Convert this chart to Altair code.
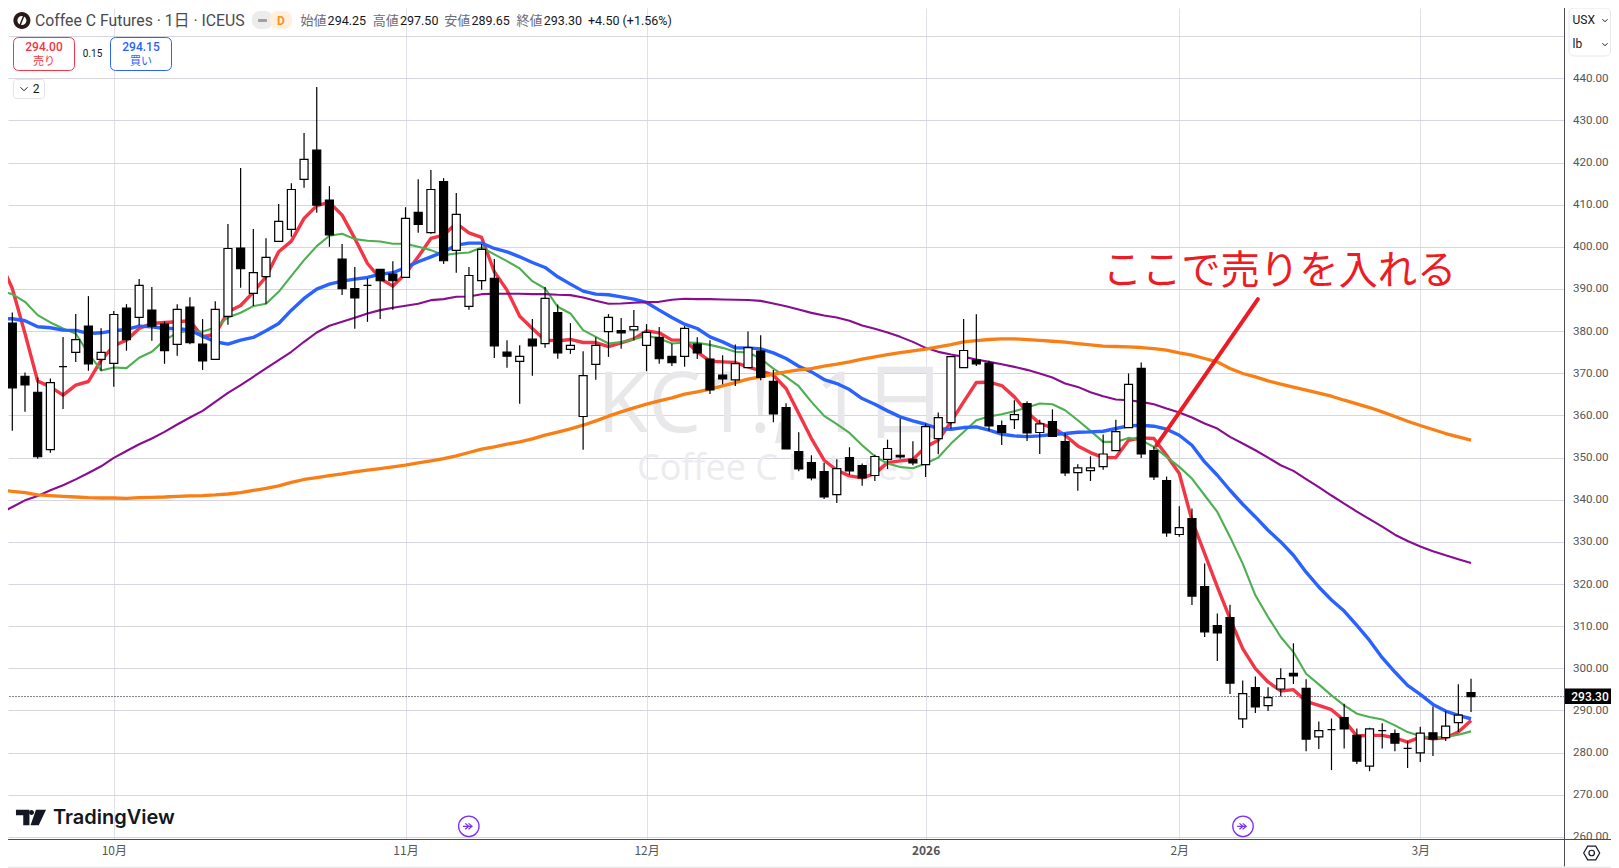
import altair as alt
import pandas as pd

opens = [381.9,369.3,365.5,351.9,371.6,374.95,381.2,373.3,372.35,385.45,383.25,385.0,381.65,376.85,385.7,376.9,373.3,383.5,399.7,388.95,
392.95,401.3,404.15,416.0,422.95,411.1,397.1,390.1,390.85,394.65,393.5,392.75,408.15,403.35,415.5,399.15,385.85,392.0,392.55,375.0,
372.8,378.1,377.05,384.4,375.65,359.75,372.1,379.9,380.15,380.3,376.6,378.5,374.0,374.0,376.9,373.35,369.55,368.45,371.35,375.25,
368.1,361.85,351.4,348.8,346.7,341.2,350.0,348.1,345.75,349.55,350.55,349.6,348.35,354.5,358.3,371.35,373.1,372.4,357.6,359.0,
362.8,355.95,358.55,353.8,346.45,346.9,347.85,351.65,357.1,371.15,351.65,344.55,331.75,335.55,319.4,310.15,312.05,288.0,295.4,291.15,
295.1,298.8,295.25,283.75,285.45,288.3,284.1,276.8,285.2,284.5,281.0,279.95,284.7,283.55,287.1,294.25]
highs = [384.4,370.2,369.0,368.75,378.6,384.05,388.3,380.7,384.75,386.4,392.35,390.45,382.3,386.4,388.05,382.85,387.1,405.4,418.7,404.2,
402.05,410.15,415.1,427.0,437.9,414.4,400.65,395.2,392.5,394.65,396.55,409.4,416.05,418.2,416.3,412.75,395.2,400.65,397.1,377.85,
376.65,382.85,390.45,386.3,381.9,375.25,378.55,384.05,383.1,385.0,381.65,380.95,377.05,381.2,378.55,377.85,374.3,376.8,379.9,379.05,
370.75,362.9,356.0,350.55,348.75,349.6,352.45,348.6,350.7,354.25,359.25,353.9,358.05,360.7,373.95,382.85,384.0,372.95,358.8,363.6,
363.35,359.0,361.45,355.8,348.4,350.3,355.45,359.0,369.95,372.55,352.6,345.5,338.45,337.9,324.85,313.0,315.1,297.1,298.05,295.5,
300.0,305.95,297.4,287.4,288.1,291.6,285.75,285.9,286.95,285.5,282.75,286.15,290.95,289.8,296.2,297.5]
lows = [356.35,360.85,349.7,351.15,361.55,372.7,370.6,370.6,366.8,375.35,381.4,377.7,372.25,374.15,376.9,370.8,373.3,381.5,390.3,385.95,
386.5,401.3,402.4,414.0,408.1,400.0,388.6,380.55,382.2,382.9,385.05,392.75,403.35,403.1,395.95,393.85,385.05,389.8,373.65,371.3,
362.75,369.4,376.05,373.45,374.6,351.85,368.45,373.9,375.8,377.85,370.5,372.25,371.75,371.55,373.4,365.1,367.4,367.0,371.35,368.35,
358.4,352.05,346.75,344.6,340.2,339.25,345.9,343.3,344.45,347.3,349.75,348.2,345.4,350.8,356.9,371.35,371.75,356.35,353.0,356.8,
353.95,350.85,354.9,345.65,342.1,344.45,347.1,351.65,357.1,349.9,344.7,331.2,331.2,315.05,307.45,301.75,293.9,285.85,289.4,289.9,
293.3,296.3,280.35,280.85,275.85,281.0,277.3,275.6,281.0,280.35,276.35,277.75,279.2,282.75,284.9,289.65]
closes = [366.55,367.25,350.2,367.8,371.6,378.0,372.25,374.95,383.95,377.95,390.85,381.2,375.35,385.15,377.25,372.95,385.15,399.6,394.8,393.9,
397.5,406.05,413.6,420.75,409.9,402.85,390.05,387.9,390.85,391.95,391.95,406.75,405.3,413.6,396.7,407.7,393.2,399.4,376.5,374.05,
374.0,376.5,387.75,374.85,376.6,369.45,376.6,383.25,379.6,381.1,379.7,373.45,372.5,380.65,374.85,366.05,368.65,372.3,376.1,369.05,
360.35,352.05,347.3,345.15,340.65,347.4,346.85,345.15,350.25,352.15,350.15,348.75,357.35,359.5,373.95,375.4,372.25,357.5,356.0,360.2,
355.85,358.0,355.05,346.35,347.55,347.55,350.85,356.15,367.35,350.85,345.4,332.1,333.4,317.15,308.65,308.4,296.5,294.0,290.85,293.05,
297.55,298.2,283.2,285.2,285.45,285.6,278.0,285.65,285.2,282.25,281.0,284.65,283.2,286.3,288.9,293.3]

ma_red = [396.85,390.12,379.45,368.13,366.79,364.81,367.18,368.05,373.12,376.52,377.86,380.63,381.82,382.06,382.22,382.45,378.66,379.29,384.59,386.09,389.26,
392.9,398.83,401.36,406.74,409.75,410.54,407.53,401.99,396.05,392.49,390.67,393.68,397.63,401.99,402.78,405.55,403.33,402.22,394.07,389.72,
383.55,380.63,377.86,377.7,378.02,377.3,377.3,376.35,377.22,378.17,380.07,379.6,377.86,377.86,375.08,372.86,372.7,372.55,371.52,370.57,
369.54,366.38,360.44,354.51,349.37,346.99,345.65,345.17,346.2,348.81,349.21,349.53,352.53,354.11,358.46,363.21,367.8,367.88,367.09,364.4,
360.84,358.07,357.12,355.3,352.77,351.19,350.0,350.0,354.12,354.67,354.51,350.56,346.21,335.13,327.22,319.31,311.79,304.67,299.93,296.76,
294.63,294.94,292.16,291.21,290.18,287.65,283.93,284.09,284.09,283.53,282.5,283.69,283.3,283.53,284.88,287.65]
ma_green = [389.57,388.78,386.96,383.8,382.06,380.63,379.45,374.7,370.67,371.38,371.22,373.67,375.09,377.86,379.6,380.08,379.84,380.87,383.24,384.35,385.93,
386.49,389.33,393.13,396.85,400.17,402.63,403.1,401.83,401.43,401.27,400.72,400.72,400.01,399.22,398.03,398.43,398.66,399.85,398.19,396.61,
394.87,391.86,390.12,385.77,384.19,380.23,378.65,377.07,377.38,378.09,378.89,378.25,377.07,377.3,377.21,376.74,376.03,375.08,374.92,373.5,
371.12,369.14,366.93,363.21,359.89,357.91,355.85,352.93,350.32,348.58,347.78,347.47,348.58,350.0,353.32,356.09,358.86,359.73,360.28,361.0,
361.87,362.82,362.66,361.24,358.86,356.33,353.72,353.72,354.67,354.12,352.53,350.16,347.79,345.02,341.06,337.11,331.18,324.85,317.33,312.19,
307.42,303.86,298.72,296.19,293.58,291.21,289.23,288.44,287.88,286.46,284.88,283.93,283.53,283.69,284.25,285.04]
ma_blue = [382.93,382.93,382.45,381.03,380.79,380.24,380.16,379.45,379.6,380.08,380.4,381.19,381.03,380.63,380.63,380.24,378.81,377.47,376.91,377.86,378.5,
380.08,381.82,384.98,387.75,389.97,391.16,391.87,392.33,392.73,393.52,393.84,395.1,396.45,397.63,398.82,400.4,400.88,400.88,399.61,398.82,
397.63,396.29,395.1,392.89,391.15,389.49,388.77,388.62,388.14,387.59,386.8,384.98,383.24,381.65,380.62,378.64,377.45,376.03,376.03,375.79,
374.84,373.5,371.68,370.33,368.51,367.56,366.14,364.0,362.66,361.08,359.65,358.7,357.91,356.88,356.72,357.12,357.28,356.49,355.54,355.14,
354.98,355.15,355.46,355.7,356.02,356.09,356.25,356.89,357.52,357.68,357.44,356.73,355.3,352.93,348.97,345.81,342.25,338.93,335.92,332.76,
329.99,326.82,322.8,319.3,316.2,313.6,310.19,306.63,302.52,299.12,295.95,293.82,291.44,289.86,288.83,288.04]
ma_purple = [336.7,338.28,339.86,340.89,342.23,343.42,344.84,346.35,347.93,349.91,351.57,353.15,354.53,356.11,357.85,359.51,361.09,363.23,365.37,367.18,369.16,
371.14,373.12,375.1,377.47,379.68,381.27,382.22,383.16,384.19,384.98,385.53,386.01,386.48,387.35,387.59,388.14,388.22,388.77,388.85,388.85,
388.85,388.77,388.77,388.62,388.54,387.98,387.19,386.48,386.56,386.72,386.88,386.95,387.43,387.67,387.6,387.6,387.5,387.45,387.4,387.18,
386.55,385.92,385.12,384.33,383.7,383.23,382.44,381.33,380.54,379.67,378.64,377.45,376.03,375.08,374.44,373.89,373.26,372.7,372.15,371.52,
370.81,369.94,368.99,367.57,366.77,365.51,364.56,363.77,363.61,363.21,362.66,361.63,360.68,359.5,358.07,356.89,354.91,353.33,351.74,350.0,
348.18,346.84,344.9,343.0,341.0,339.1,337.2,335.4,333.6,331.7,330.2,328.9,327.8,326.8,325.9,325.0]
ma_orange = [342.31,342.0,341.68,341.13,340.97,340.81,340.65,340.49,340.41,340.41,340.33,340.49,340.57,340.65,340.81,340.89,340.97,341.13,341.36,341.68,342.2,
342.7,343.3,344.1,344.8,345.27,345.74,346.14,346.61,347.0,347.4,347.8,348.19,348.75,349.22,349.77,350.41,351.2,351.99,352.54,353.18,
353.73,354.44,355.31,356.02,356.81,357.68,358.71,359.82,360.85,361.8,362.67,363.46,364.17,365.04,365.58,366.22,367.01,367.8,368.59,369.14,
369.78,370.33,370.81,371.12,371.68,372.15,372.7,373.34,373.89,374.44,374.92,375.32,375.71,376.26,376.82,377.45,377.77,378.01,378.16,378.16,
378.0,377.8,377.6,377.38,377.06,376.74,376.43,376.35,376.27,376.11,375.87,375.48,374.84,374.29,373.5,372.71,371.13,369.94,369.15,368.2,
367.41,366.7,365.99,365.27,364.56,363.61,362.74,361.87,360.84,359.74,358.63,357.6,356.65,355.7,354.91,354.12]

y_ticks = [260,270,280,290,300,310,320,330,340,350,360,370,380,390,400,410,420,430,440,450]
x_tick_pos = [8,31,50,72,92,111]
x_tick_text = ["10月","11月","12月","2026","2月","3月"]
last_price = 293.30
arrow_idx = [90.2,98.2]
arrow_price = [352.9,387.6]

X_DOM = [-0.34,122.37]
Y_DOM = [259.39,456.66]
FONT = "Roboto, 'Noto Sans CJK JP', sans-serif"
JP = "'Noto Sans CJK JP', Roboto, sans-serif"
OX, OY = 8, 8
blank = alt.Data(values=[{}])

xs = alt.Scale(domain=X_DOM, nice=False, zero=False, padding=0)
ys = alt.Scale(domain=Y_DOM, nice=False, zero=False)
label_expr = "{" + ",".join(f"'{p}':'{t}'" for p, t in zip(x_tick_pos, x_tick_text)) + "}[datum.value]"
x_axis = alt.Axis(values=x_tick_pos, labelExpr=label_expr, title=None, grid=True, gridColor="#e0e0e8", gridWidth=1,
                  domain=False, ticks=False, labelPadding=6, labelFont=JP, labelFontSize=12, labelColor="#555555",
                  labelOverlap=False, labelFlush=False, labelBound=False,
                  labelFontWeight={"condition": {"test": "datum.value == 72", "value": "bold"}, "value": "normal"})
y_axis = alt.Axis(orient="right", values=y_ticks, title=None, grid=True, gridColor="#d6d6e0", gridWidth=1, domain=False, ticks=False,
                  labelExpr="datum.value >= 450 ? '' : format(datum.value, '.2f')", labelPadding=8, labelFont="Roboto",
                  labelFontSize=11.6, labelColor="#555555", labelOverlap=False, labelBound=False, labelFlush=False)
X = alt.X("idx:Q", scale=xs, axis=x_axis)


def Yq(col):
    return alt.Y(f"{col}:Q", scale=ys, axis=y_axis)


def T(text, x, y, size=13, color="#131722", align="left", font=FONT, weight="normal", baseline="middle"):
    return alt.Chart(blank).mark_text(text=text, align=align, baseline=baseline, fontSize=size, color=color, font=font,
                                      fontWeight=weight).encode(x=alt.value(x - OX), y=alt.value(y - OY))


def R(x0, x1, y0, y1, fill="white", stroke=None, corner=0, sw=1):
    props = dict(fill=fill, cornerRadius=corner)
    if stroke:
        props.update(stroke=stroke, strokeWidth=sw)
    return alt.Chart(blank).mark_rect(**props).encode(x=alt.value(x0 - OX), x2=alt.value(x1 - OX), y=alt.value(y0 - OY), y2=alt.value(y1 - OY))


def P(path, x, y, width, fill=None, stroke=None, sw=1):
    props = dict(shape=path, size=width * width, opacity=1)
    props.update(filled=bool(fill))
    if fill:
        props.update(fill=fill, strokeWidth=0)
    if stroke:
        props.update(stroke=stroke, strokeWidth=sw)
    return alt.Chart(blank).mark_point(**props).encode(x=alt.value(x - OX), y=alt.value(y - OY))


def Ln(x0, x1, y0, y1, color="#4a4e54", w=1):
    return alt.Chart(blank).mark_rule(color=color, strokeWidth=w).encode(
        x=alt.value(x0 - OX), x2=alt.value(x1 - OX), y=alt.value(y0 - OY), y2=alt.value(y1 - OY))


candles = pd.DataFrame({"idx": range(len(opens)), "open": opens, "high": highs, "low": lows, "close": closes})
lines = pd.DataFrame({"idx": list(range(-1, 116)), "red": ma_red, "green": ma_green, "blue": ma_blue,
                      "purple": ma_purple, "orange": ma_orange})


def ma(col, color, w):
    return alt.Chart(lines).mark_line(color=color, strokeWidth=w, clip=True, strokeJoin="round").encode(x=X, y=Yq(col))


wicks = alt.Chart(candles).mark_rule(color="black", strokeWidth=1.2).encode(x=X, y=Yq("high"), y2="low:Q")
bodies = alt.Chart(candles).mark_bar(size=8, stroke="black", strokeWidth=1.2).encode(
    x=X, y=Yq("open"), y2="close:Q",
    fill=alt.condition("datum.close >= datum.open", alt.value("white"), alt.value("black")))

price_line = alt.Chart(pd.DataFrame({"p": [last_price]})).mark_rule(color="black", strokeWidth=1, strokeDash=[1, 2]).encode(
    y=Yq("p"))
arrow = alt.Chart(pd.DataFrame({"idx": arrow_idx, "p": arrow_price})).mark_line(color="#ed1c24", strokeWidth=4, strokeCap="round").encode(
    x=X, y=Yq("p"))

chev = "M-1,-0.5L0,0.5L1,-0.5"
hexagon = "M-1,0L-0.5,-0.85L0.5,-0.85L1,0L0.5,0.85L-0.5,0.85Z"
logo = ("M-0.97,-0.5L-0.1,-0.5L-0.1,0.5L-0.5,0.5L-0.5,-0.15L-0.97,-0.15Z"
        "M0.32,-0.5L0.97,-0.5L0.5,0.5L-0.03,0.5Z")
flag = "M-0.55,-0.45L0,0L-0.55,0.45M-0.05,-0.45L0.5,0L-0.05,0.45M-0.9,0L0.45,0"
circle = "M-1,0A1,1 0 1,1 1,0A1,1 0 1,1 -1,0Z"

layers = [
    T("KC1!, 1日", 772, 431.7, size=84, color="#e8e8ea", align="center", font="'Open Sans', 'Noto Sans CJK JP'", baseline="alphabetic"),
    T("Coffee C Futures", 776, 480, size=36, color="#ececee", align="center", font="'Open Sans'", baseline="alphabetic"),
    price_line,
    ma("red", "#f23645", 3.4), ma("green", "#4caf50", 2.1), ma("blue", "#2962ff", 3.4), ma("purple", "#880e8f", 2.1), ma("orange", "#f97f14", 3.3),
    wicks, bodies, arrow,
    T("ここで売りを入れる", 1279.5, 272, size=39.3, color="#ed1c24", align="center", font=JP),
    # header
    P(circle, 21.9, 20.5, 17, fill="#2a1a16"),
    P(circle, 21.9, 20.5, 9, fill="#ffffff"),
    P("M0.4,-1L-0.4,1", 21.9, 20.5, 9, stroke="#2a1a16", sw=1.5),
    T("Coffee C Futures · 1日 · ICEUS", 35, 20.5, size=15.8, color="#4a4a4f"),
    R(252, 273, 11, 29, fill="#ececec", corner=8),
    R(270, 292, 11, 29, fill="#fff0dc", corner=8),
    R(258, 267, 19, 22, fill="#a0a0a6", corner=1),
    T("D", 281, 20.5, size=12, color="#f7931e", align="center", weight="bold"),
]
for name, x, val, vx in [("始値", 300.4, "294.25", 327.6), ("高値", 372.8, "297.50", 400), ("安値", 444.2, "289.65", 471.4), ("終値", 516.5, "293.30", 543.7)]:
    layers += [T(name, x, 20.5, size=13, color="#6a6d78", font=JP), T(val, vx, 20.5, size=12.5)]
layers += [
    T("+4.50 (+1.56%)", 588, 20.5, size=12.5),
    R(13.5, 74.5, 37.5, 70.5, stroke="#f23645", corner=5),
    T("294.00", 44, 47, size=12, color="#f23645", align="center", weight=500),
    T("売り", 44, 61.5, size=11, color="#f23645", align="center", font=JP),
    T("0.15", 92.5, 53.7, size=10, align="center"),
    R(110.5, 171.5, 37.5, 70.5, stroke="#2962ff", corner=5),
    T("294.15", 141, 47, size=12, color="#2962ff", align="center", weight=500),
    T("買い", 141, 61.5, size=11, color="#2962ff", align="center", font=JP),
    R(13.5, 44.5, 79.5, 98.5, stroke="#e0e3eb", corner=3),
    P(chev, 24, 89, 7, stroke="#131722"),
    T("2", 36, 89, size=12, align="center"),
    # TradingView mark
    P(logo, 31, 817.5, 31, fill="#131722"),
    P(circle, 31.5, 812.6, 5, fill="#131722"),
    T("TradingView", 53, 818, size=20, font="Inter", weight=600),
    # event flags
    P(circle, 468.8, 826.3, 20.5, stroke="#7a2dff", sw=1.3),
    P(flag, 468.8, 826.3, 13, stroke="#7a2dff", sw=1.2),
    P(circle, 1243, 826.3, 20.5, stroke="#7a2dff", sw=1.3),
    P(flag, 1243, 826.3, 13, stroke="#7a2dff", sw=1.2),
    # scale furniture
    R(1565, 1611, 840, 866.5),
    Ln(8, 1611, 839.5, 839.5),
    Ln(1564.5, 1564.5, 8, 866.5),
    R(8, 1611, 866.7, 868, fill="#e8e8e8"),
    R(1569, 1610.5, 8, 56, stroke="#e8e8ec", corner=5),
    T("USX", 1572.5, 20, size=12),
    T("lb", 1572.5, 44, size=12),
    P(chev, 1605, 20.5, 5, stroke="#131722"),
    P(chev, 1605, 44.5, 5, stroke="#131722"),
    R(1565, 1611, 688.5, 704, fill="black"),
    T("293.30", 1590, 696.5, size=12, color="white", align="center", font="Roboto", weight=500),
    P(hexagon, 1591.7, 853, 16, stroke="#131722", sw=1.2),
    P(circle, 1591.7, 853, 5.5, stroke="#131722", sw=1.2),
]

chart = alt.layer(*layers).properties(
    width=1556.5, height=831.5,
    padding={"left": 0, "top": 0, "right": 46.5, "bottom": 28.5},
    autosize=alt.AutoSizeParams(type="none"),
    background="white",
).configure_view(stroke=None)

chart.save("out.html", embed_options={"renderer": "svg", "actions": False})
